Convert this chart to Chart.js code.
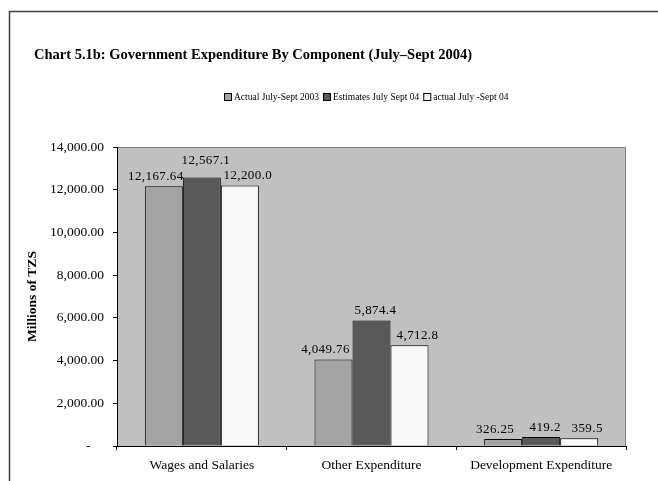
<!DOCTYPE html>
<html><head><meta charset="utf-8">
<script src="https://cdn.jsdelivr.net/npm/chart.js@4"></script>
<style>html,body{margin:0;padding:0;background:#fff}#wrap{width:658px;height:481px;position:relative}</style>
</head><body><div id="wrap"><canvas id="c" width="658" height="481"></canvas></div>
<script>
const categories = ['Wages and Salaries', 'Other Expenditure', 'Development Expenditure'];
const seriesNames = ['Actual July-Sept 2003', 'Estimates July Sept 04', 'actual July -Sept 04'];
const actual2003 = [12167.64, 4049.76, 326.25];
const estimates04 = [12567.1, 5874.4, 419.2];
const actual04 = [12200.0, 4712.8, 359.5];
const labels2003 = ['12,167.64', '4,049.76', '326.25'];
const labelsEst04 = ['12,567.1', '5,874.4', '419.2'];
const labelsAct04 = ['12,200.0', '4,712.8', '359.5'];
const yMin = 0, yMax = 14000, yStep = 2000;
const chartTitle = 'Chart 5.1b: Government Expenditure By Component (July\u2013Sept 2004)';
const yAxisTitle = 'Millions of TZS';

const SERIF = "'Liberation Serif', 'Times New Roman', serif";
const fills = ['#a3a3a3', '#595959', '#f8f8f8'];

const decorPlugin = {
  id: 'decor',
  beforeDraw(chart) {
    const { ctx, chartArea: a } = chart;
    ctx.save();
    ctx.fillStyle = '#fff';
    ctx.fillRect(0, 0, chart.width, chart.height);
    // outer frame
    ctx.strokeStyle = '#404040';
    ctx.lineWidth = 1.5;
    ctx.beginPath();
    ctx.moveTo(9.5, chart.height);
    ctx.lineTo(9.5, 11.5);
    ctx.lineTo(chart.width, 11.5);
    ctx.stroke();
    // plot background
    ctx.fillStyle = '#c0c0c0';
    ctx.fillRect(a.left, a.top, a.right - a.left, a.bottom - a.top);
    ctx.strokeStyle = '#808080';
    ctx.lineWidth = 1;
    ctx.beginPath();
    ctx.moveTo(a.left, a.top + 0.5);
    ctx.lineTo(a.right - 0.5, a.top + 0.5);
    ctx.lineTo(a.right - 0.5, a.bottom);
    ctx.stroke();
    // title
    ctx.fillStyle = '#000';
    ctx.font = "bold 14.5px " + SERIF;
    ctx.textAlign = 'left';
    ctx.textBaseline = 'middle';
    ctx.fillText(chartTitle, 34, 55);
    // legend
    ctx.font = "9.5px " + SERIF;
    const box = 7, gapBox = 3, gapItem = 4;
    const widths = seriesNames.map(n => ctx.measureText(n).width);
    let total = 0;
    widths.forEach((w, i) => { total += box + gapBox + w + (i < widths.length - 1 ? gapItem : 0); });
    let x = Math.round(366 - total / 2);
    const y = 97;
    seriesNames.forEach((n, i) => {
      ctx.fillStyle = fills[i];
      ctx.fillRect(x + 0.5, y - 4 + 0.5, box, box);
      ctx.strokeStyle = '#000';
      ctx.lineWidth = 1;
      ctx.strokeRect(x + 0.5, y - 4 + 0.5, box, box);
      ctx.fillStyle = '#000';
      ctx.fillText(n, x + box + gapBox, y);
      x += box + gapBox + widths[i] + gapItem;
    });
    ctx.restore();
  }
};

const valueLabelPlugin = {
  id: 'valueLabels',
  afterDatasetsDraw(chart) {
    const { ctx } = chart;
    const texts = [labels2003, labelsEst04, labelsAct04];
    const dx = [-8, 4, 8];
    ctx.save();
    ctx.font = "13px " + SERIF;
    try { ctx.letterSpacing = '0.4px'; } catch (e) {}
    ctx.fillStyle = '#000';
    ctx.textAlign = 'center';
    ctx.textBaseline = 'bottom';
    const n = chart.data.labels.length;
    for (let i = 0; i < n; i++) {
      const placed = [];
      chart.data.datasets.forEach((ds, di) => {
        const bar = chart.getDatasetMeta(di).data[i];
        const t = texts[di][i];
        const m = ctx.measureText(t);
        const w = m.width, h = 10;
        const cx = bar.x + dx[di];
        let bottom = bar.y - 3;
        let box = { l: cx - w / 2, r: cx + w / 2, t: bottom - h, b: bottom };
        for (const p of placed) {
          if (box.l < p.r && box.r > p.l && box.t < p.b && box.b > p.t) {
            bottom = p.t - 6;
            box = { l: box.l, r: box.r, t: bottom - h, b: bottom };
          }
        }
        placed.push(box);
        ctx.fillText(t, cx, bottom);
      });
    }
    ctx.restore();
  }
};

new Chart(document.getElementById('c'), {
  type: 'bar',
  data: {
    labels: categories,
    datasets: [
      { label: seriesNames[0], data: actual2003, backgroundColor: fills[0], borderColor: '#000', borderWidth: 1 },
      { label: seriesNames[1], data: estimates04, backgroundColor: fills[1], borderColor: '#000', borderWidth: 1 },
      { label: seriesNames[2], data: actual04, backgroundColor: fills[2], borderColor: '#000', borderWidth: 1 }
    ]
  },
  options: {
    responsive: false,
    animation: false,
    devicePixelRatio: 1,
    categoryPercentage: 0.672,
    barPercentage: 1,
    layout: { padding: { top: 147, right: 32, left: 0, bottom: 0 } },
    plugins: { legend: { display: false }, title: { display: false }, tooltip: { enabled: false } },
    scales: {
      x: {
        grid: { display: true, drawOnChartArea: false, drawTicks: true, tickLength: 4, color: '#000', offset: true },
        border: { color: '#000' },
        ticks: { color: '#000', font: { family: SERIF, size: 13.5 }, padding: 7, maxRotation: 0 },
        afterFit(s) { s.height = 35; }
      },
      y: {
        min: yMin, max: yMax,
        grid: { drawOnChartArea: false, tickLength: 4, color: '#000' },
        border: { color: '#000' },
        ticks: {
          stepSize: yStep, color: '#000', padding: 9,
          font: { family: SERIF, size: 13.5 },
          callback: v => v === 0 ? '-\u2007\u2007' : Number(v).toLocaleString('en-US', { minimumFractionDigits: 2, maximumFractionDigits: 2 })
        },
        title: { display: true, text: yAxisTitle, color: '#000', font: { family: SERIF, size: 13.5, weight: 'bold' }, padding: { top: 24, bottom: 0 } },
        afterFit(s) { s.width = 117; }
      }
    }
  },
  plugins: [decorPlugin, valueLabelPlugin]
});
</script></body></html>
